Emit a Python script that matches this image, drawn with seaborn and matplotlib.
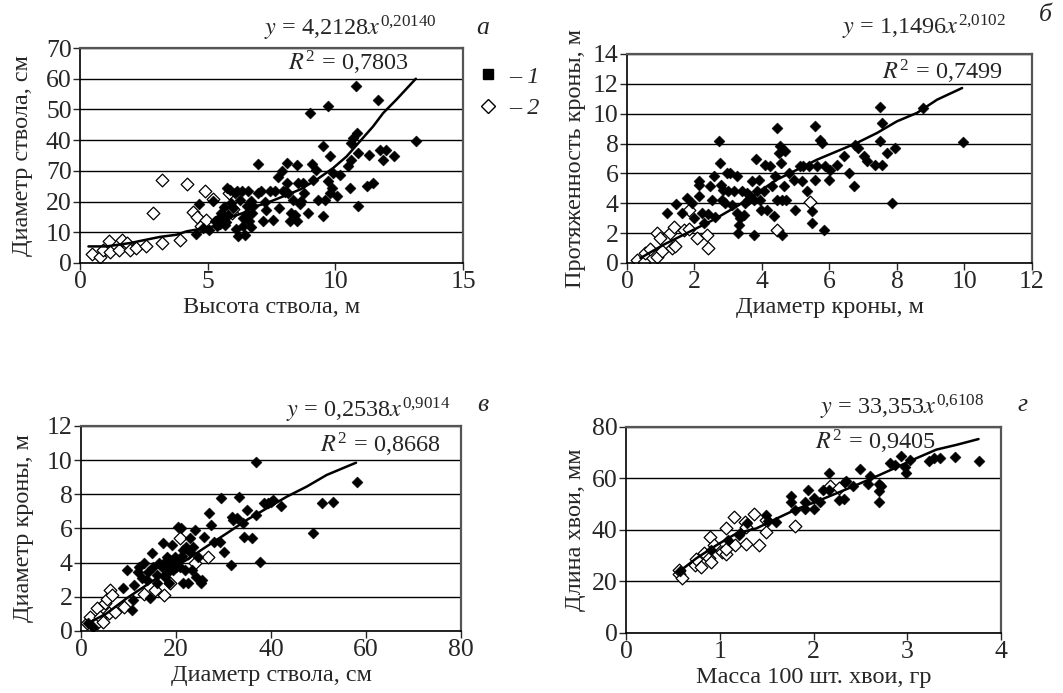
import numpy as np
import pandas as pd
import matplotlib
matplotlib.use("Agg")
import matplotlib.pyplot as plt
import seaborn as sns
from matplotlib.lines import Line2D

# ---- panel а: высота ствола, м -> диаметр ствола, см
a_open_x = [0.46, 0.78, 0.9, 1.15, 1.17, 1.54, 1.63, 1.83, 1.96, 2.2, 2.6, 2.87, 3.2, 3.2, 3.9,
            4.18, 4.41, 4.6, 4.73, 4.93, 4.9, 5.2, 5.85, 5.94, 6.0]
a_open_y = [2.8, 1.8, 4.2, 7.0, 3.7, 4.2, 7.5, 6.4, 4.2, 4.8, 5.5, 16.2, 27.0, 6.6, 7.5,
            25.6, 16.5, 15.1, 12.2, 14.0, 23.6, 20.8, 22.7, 16.2, 17.5]
a_fill_x = [4.56, 4.67, 4.83, 5.06, 5.2, 5.3, 5.54, 5.6, 5.67, 5.74, 5.87, 5.93, 6.0, 6.07, 6.13,
            6.2, 6.26, 6.33, 6.37, 6.46, 6.52, 6.59, 6.63, 6.68, 6.72, 6.78, 6.98, 6.95, 7.07, 7.17,
            7.24, 7.3, 7.43, 7.57, 7.63, 7.76, 7.89, 7.8, 7.96, 8.02, 8.09, 8.11, 8.15, 8.22, 8.28,
            8.35, 8.41, 8.48, 8.5, 8.54, 8.61, 8.67, 8.74, 8.76, 8.93, 9.0, 9.07, 9.13, 9.26, 9.33,
            9.5, 9.5, 9.59, 9.72, 9.72, 9.78, 9.8, 9.85, 9.9, 10.05, 10.2, 10.5, 10.57, 10.6, 10.63,
            10.7, 10.8, 10.85, 10.9, 10.9, 11.22, 11.32, 11.48, 11.65, 11.74, 11.87, 12.0, 12.29, 13.15,
            5.45, 5.5, 5.62, 5.8, 6.1, 6.4, 6.55, 6.7, 5.35, 5.7]
a_fill_y = [9.4, 19.3, 11.4, 10.9, 20.3, 13.6, 16.3, 14.1, 12.5, 24.4, 23.9, 19.5, 17.9, 22.8, 23.4,
            8.9, 20.6, 23.4, 14.7, 9.2, 18.5, 23.4, 13.6, 20.1, 16.3, 18.5, 22.8, 32.3, 23.6, 13.6,
            19.8, 17.4, 23.4, 14.1, 23.4, 28.0, 29.8, 17.9, 23.4, 23.0, 32.6, 26.0, 22.8, 13.6, 16.3,
            20.6, 15.7, 13.6, 31.8, 26.0, 19.3, 20.1, 26.0, 22.8, 16.3, 49.0, 32.3, 27.1, 30.4, 20.6,
            38.0, 15.2, 20.6, 51.0, 26.6, 22.8, 34.7, 24.4, 29.3, 21.7, 28.8, 31.5, 24.4, 39.0, 33.6,
            40.7, 57.7, 42.3, 35.8, 18.5, 25.0, 35.3, 25.9, 53.2, 36.9, 33.6, 36.9, 34.7, 39.8,
            14.5, 12.8, 18.2, 15.5, 11.0, 12.0, 15.8, 11.8, 12.2, 13.2]
a_trend_x = [0.33, 1.04, 1.96, 3.13, 3.78, 4.17, 4.7, 5.2, 5.74, 6.0, 6.39, 6.78, 7.3, 7.96, 8.61,
             9.26, 9.91, 10.44, 10.96, 11.48, 11.87, 12.39, 13.15]
a_trend_y = [5.4, 5.4, 6.5, 8.5, 9.2, 10.3, 11.1, 11.9, 14.1, 15.2, 16.3, 18.2, 19.5, 21.7, 23.9,
             27.1, 30.9, 34.7, 39.6, 44.5, 48.8, 53.2, 60.0]
a_yticks = [0, 10, 20, 30, 40, 50, 60, 70]
a_yticklabels = ["0", "10", "20", "70", "40", "50", "60", "70"]

# ---- panel б: диаметр кроны, м -> протяженность кроны, м
b_open_x = [0.3, 0.5, 0.54, 0.69, 0.89, 0.89, 0.99, 1.04, 1.28, 1.33, 1.4, 1.43, 1.7, 1.83, 1.83,
            2.07, 2.37, 2.4, 4.44, 5.43]
b_open_y = [0.22, 0.1, 0.67, 0.94, 2.0, 0.4, 1.67, 0.78, 2.0, 1.0, 2.4, 1.16, 2.23, 3.57, 2.28,
            1.67, 1.9, 1.0, 2.23, 4.06]
b_fill_x = [1.19, 1.45, 1.63, 1.78, 1.93, 1.98, 2.12, 2.12, 2.12, 2.22, 2.27, 2.47, 2.52, 2.57, 2.72,
            2.77, 2.79, 2.82, 2.86, 2.91, 2.96, 3.0, 3.06, 3.16, 3.26, 3.26, 3.28, 3.31, 3.36, 3.41,
            3.46, 3.51, 3.56, 3.65, 3.7, 3.75, 3.77, 3.83, 3.85, 3.9, 3.95, 3.98, 4.05, 4.1, 4.15,
            4.25, 4.3, 4.35, 4.4, 4.44, 4.46, 4.5, 4.54, 4.56, 4.6, 4.6, 4.64, 4.69, 4.72, 4.79,
            4.94, 4.99, 5.13, 5.18, 5.23, 5.33, 5.38, 5.48, 5.48, 5.56, 5.58, 5.63, 5.71, 5.78, 5.83,
            5.88, 5.98, 6.02, 6.22, 6.42, 6.57, 6.72, 6.77, 6.86, 7.01, 7.11, 7.36, 7.49, 7.51, 7.56,
            7.56, 7.71, 7.85, 7.93, 8.77, 9.96, 2.4, 2.6, 3.1, 3.6]
b_fill_y = [3.35, 3.93, 3.35, 4.35, 4.0, 3.0, 5.25, 5.47, 4.47, 3.35, 2.68, 5.14, 4.24, 5.8, 8.2,
            6.7, 5.25, 4.24, 4.9, 4.0, 6.0, 4.8, 6.03, 4.8, 5.8, 3.35, 2.0, 2.56, 3.0, 4.8,
            3.24, 4.0, 4.69, 4.46, 5.47, 4.24, 1.9, 6.97, 4.8, 5.58, 4.24, 3.57, 4.8, 6.59, 3.57,
            6.47, 5.14, 3.13, 5.8, 4.24, 9.04, 7.37, 7.81, 6.7, 4.24, 1.9, 5.14, 7.48, 4.24, 6.0,
            5.58, 3.57, 6.47, 5.47, 6.47, 4.8, 6.47, 3.46, 2.68, 9.15, 5.58, 6.47, 8.26, 8.04, 2.23,
            6.47, 5.58, 6.25, 6.59, 7.14, 6.03, 5.14, 7.92, 7.7, 7.14, 6.81, 6.59, 10.45, 8.2, 9.37,
            6.59, 7.37, 4.0, 7.7, 10.38, 8.08, 3.3, 3.1, 3.9, 4.2]
b_trend_x = [0.4, 1.09, 1.88, 2.57, 3.26, 3.85, 4.44, 5.04, 5.63, 6.22, 6.81, 7.41, 8.0, 8.59, 9.19, 9.93]
b_trend_y = [0.33, 1.23, 2.12, 2.9, 3.8, 4.69, 5.58, 6.25, 6.92, 7.48, 8.04, 8.71, 9.49, 10.05, 10.94, 11.72]

# ---- panel в: диаметр ствола, см -> диаметр кроны, м
c_open_x = [1.33, 1.9, 2.6, 3.3, 3.3, 4.0, 4.7, 5.05, 5.4, 5.96, 6.1, 6.46, 7.2, 9.05, 13.3,
            15.6, 17.4, 18.8, 20.8, 22.6, 24.0, 26.8]
c_open_y = [0.45, 0.84, 0.35, 0.45, 1.33, 0.84, 0.55, 1.62, 1.9, 1.03, 2.4, 2.1, 1.13, 1.42, 2.15,
            2.4, 2.1, 2.8, 5.42, 4.55, 3.96, 4.35]
c_fill_x = [1.5, 2.6, 8.9, 9.6, 10.7, 10.9, 11.2, 12.0, 12.3, 13.3, 13.8, 14.2, 14.5, 14.9, 15.2,
            15.9, 16.5, 17.0, 17.2, 17.5, 17.7, 18.0, 18.4, 18.6, 18.7, 19.1, 19.3, 19.4, 19.8, 20.0,
            20.4, 20.5, 20.8, 21.0, 21.4, 21.5, 21.8, 22.1, 22.6, 22.9, 23.3, 23.5, 23.9, 24.2, 24.7,
            25.2, 25.4, 25.8, 27.0, 27.3, 27.9, 29.3, 29.4, 30.0, 31.5, 31.7, 32.1, 32.8, 33.3, 34.0,
            34.3, 34.9, 36.0, 36.8, 36.8, 37.7, 38.6, 39.4, 39.9, 40.5, 42.2, 48.8, 50.7, 53.1, 58.0,
            16.0, 18.2, 19.6, 20.2, 21.2, 23.0, 12.8]
c_fill_y = [0.45, 0.25, 2.5, 3.57, 1.23, 1.81, 2.69, 3.47, 3.76, 3.96, 2.99, 3.47, 1.91, 4.55, 3.76,
            2.79, 3.96, 3.76, 5.17, 3.96, 3.18, 4.35, 3.76, 2.79, 4.16, 5.03, 3.96, 3.57, 4.35, 3.76,
            4.16, 6.1, 3.76, 6.0, 4.74, 2.79, 3.57, 4.94, 2.79, 5.42, 3.57, 4.94, 5.91, 3.18, 4.35,
            2.79, 2.99, 5.52, 6.93, 6.2, 5.23, 5.23, 7.77, 4.64, 3.86, 6.69, 6.48, 6.59, 7.86, 6.3,
            5.52, 7.08, 5.42, 9.91, 6.79, 4.06, 7.47, 7.47, 7.57, 7.67, 7.32, 5.72, 7.47, 7.57, 8.74,
            3.3, 3.4, 4.1, 3.9, 4.4, 4.6, 3.1]
c_trend_x = [1.5, 5.4, 9.6, 13.8, 18.0, 22.2, 26.4, 30.7, 34.9, 39.1, 43.3, 47.5, 51.7, 55.9, 57.9]
c_trend_y = [0.45, 1.03, 1.91, 2.69, 3.47, 4.16, 4.94, 5.72, 6.5, 7.18, 7.86, 8.45, 9.13, 9.62, 9.85]

# ---- panel г: масса 100 шт. хвои, гр -> длина хвои, мм
d_open_x = [0.56, 0.57, 0.6, 0.74, 0.75, 0.8, 0.83, 0.88, 0.9, 0.91, 0.94, 1.02, 1.07, 1.07, 1.07,
            1.15, 1.16, 1.27, 1.28, 1.28, 1.37, 1.42, 1.49, 1.49, 1.8, 2.18, 2.27]
d_open_y = [22.9, 24.4, 21.2, 26.4, 28.6, 25.7, 31.0, 29.0, 37.4, 27.5, 34.2, 31.6, 30.6, 40.6, 32.7,
            45.2, 34.2, 43.2, 41.3, 34.5, 46.1, 34.2, 43.9, 39.4, 41.7, 56.9, 56.2]
d_fill_x = [0.58, 0.91, 1.09, 1.2, 1.22, 1.29, 1.49, 1.51, 1.6, 1.76, 1.76, 1.8, 1.91, 1.91, 1.94,
            2.0, 2.0, 2.07, 2.1, 2.16, 2.17, 2.27, 2.32, 2.34, 2.35, 2.42, 2.5, 2.58, 2.6, 2.7,
            2.7, 2.7, 2.72, 2.82, 2.87, 2.93, 2.98, 2.99, 3.03, 3.23, 3.28, 3.35, 3.51, 3.76]
d_fill_y = [24.0, 32.2, 36.1, 38.0, 38.7, 42.6, 45.8, 43.6, 43.2, 53.0, 51.0, 47.8, 48.0, 51.0, 55.6,
            52.3, 48.0, 51.0, 55.6, 55.6, 62.0, 51.6, 51.9, 58.8, 59.2, 56.9, 63.6, 58.0, 60.8, 58.0,
            55.0, 51.0, 57.2, 66.0, 65.3, 68.8, 64.4, 62.3, 67.3, 66.6, 67.9, 67.9, 68.3, 66.9]
d_trend_x = [0.57, 0.75, 0.97, 1.18, 1.39, 1.61, 1.82, 2.03, 2.25, 2.46, 2.67, 2.89, 3.1, 3.31, 3.53, 3.76]
d_trend_y = [23.9, 29.0, 34.2, 38.7, 40.6, 44.5, 48.1, 51.0, 54.3, 57.5, 60.8, 64.4, 67.9, 71.2, 73.1, 75.3]

sns.set_style("white")
plt.rcParams["font.family"] = ["Liberation Serif", "DejaVu Serif"]
plt.rcParams["mathtext.fontset"] = "stix"

FS_TICK = 18.5
FS_LAB = 17.5
FS_EQ = 17.5


def draw_panel(ax, fx, fy, ox, oy, tx, ty, xlim, xticks, ylim, yticks, xlabel, ylabel,
               eq, r2, letter, eq_pos, r2_pos, letter_pos, ypad=3, yticklabels=None):
    pts = pd.DataFrame({
        "x": list(fx) + list(ox),
        "y": list(fy) + list(oy),
        "grp": ["1"] * len(fx) + ["2"] * len(ox),
    })
    trend = pd.DataFrame({"x": tx, "y": ty})

    for ytk in yticks:
        ax.axhline(ytk, color="black", lw=1.0, zorder=0)

    sns.scatterplot(data=pts[pts.grp == "2"], x="x", y="y", marker="D", s=42,
                    facecolor="white", edgecolor="black", linewidth=0.9, ax=ax, zorder=2)
    sns.scatterplot(data=pts[pts.grp == "1"], x="x", y="y", marker="D", s=32,
                    color="black", edgecolor="black", linewidth=0.3, ax=ax, zorder=3)
    sns.lineplot(data=trend, x="x", y="y", sort=False, color="black", lw=1.8, ax=ax, zorder=4)

    ax.set_xlim(*xlim)
    ax.set_ylim(*ylim)
    ax.set_xticks(xticks)
    ax.set_yticks(yticks)
    if yticklabels is not None:
        ax.set_yticklabels(yticklabels)
    ax.tick_params(axis="both", labelsize=FS_TICK, length=5, width=1.0, direction="out",
                   bottom=True, left=True, pad=1)
    ax.set_xlabel(xlabel, fontsize=FS_LAB, labelpad=3)
    ax.set_ylabel(ylabel, fontsize=FS_LAB, labelpad=ypad)
    for side in ["top", "right"]:
        ax.spines[side].set_color("#555555")
        ax.spines[side].set_linewidth(1.6)
    for side in ["left", "bottom"]:
        ax.spines[side].set_color("black")
        ax.spines[side].set_linewidth(1.2)

    ax.text(eq_pos[0], eq_pos[1], eq, transform=ax.transAxes, fontsize=FS_EQ,
            ha="center", va="center")
    ax.text(r2_pos[0], r2_pos[1], r2, transform=ax.transAxes, fontsize=FS_EQ,
            ha="center", va="center")
    ax.text(letter_pos[0], letter_pos[1], letter, transform=ax.transAxes, fontsize=FS_EQ + 1,
            ha="center", va="center", style="italic")


fig = plt.figure(figsize=(10.63, 6.93), dpi=100)

ax_a = fig.add_axes([0.0753, 0.6205, 0.3603, 0.3102])
ax_b = fig.add_axes([0.5898, 0.6205, 0.3810, 0.3016])
ax_c = fig.add_axes([0.0762, 0.0895, 0.3575, 0.2958])
ax_d = fig.add_axes([0.5889, 0.0866, 0.3528, 0.2973])

draw_panel(ax_a, a_fill_x, a_fill_y, a_open_x, a_open_y, a_trend_x, a_trend_y,
           (0, 15), [0, 5, 10, 15], (0, 70), a_yticks,
           "Высота ствола, м", "Диаметр ствола, см",
           r"$y$ = 4,2128$x^{\mathregular{0{,}20140}}$", r"$R^{\mathregular{2}}$ = 0,7803", "а",
           (0.705, 1.093), (0.70, 0.93), (1.052, 1.093), ypad=9, yticklabels=a_yticklabels)
draw_panel(ax_b, b_fill_x, b_fill_y, b_open_x, b_open_y, b_trend_x, b_trend_y,
           (0, 12), [0, 2, 4, 6, 8, 10, 12], (0, 14), [0, 2, 4, 6, 8, 10, 12, 14],
           "Диаметр кроны, м", "Протяженность кроны, м",
           r"$y$ = 1,1496$x^{\mathregular{2{,}0102}}$", r"$R^{\mathregular{2}}$ = 0,7499", "б",
           (0.733, 1.129), (0.778, 0.914), (1.032, 1.187), ypad=5)
draw_panel(ax_c, c_fill_x, c_fill_y, c_open_x, c_open_y, c_trend_x, c_trend_y,
           (0, 80), [0, 20, 40, 60, 80], (0, 12), [0, 2, 4, 6, 8, 10, 12],
           "Диаметр ствола, см", "Диаметр кроны, м",
           r"$y$ = 0,2538$x^{\mathregular{0{,}9014}}$", r"$R^{\mathregular{2}}$ = 0,8668", "в",
           (0.755, 1.078), (0.789, 0.907), (1.058, 1.102), ypad=9)
draw_panel(ax_d, d_fill_x, d_fill_y, d_open_x, d_open_y, d_trend_x, d_trend_y,
           (0, 4), [0, 1, 2, 3, 4], (0, 80), [0, 20, 40, 60, 80],
           "Масса 100 шт. хвои, гр", "Длина хвои, мм",
           r"$y$ = 33,353$x^{\mathregular{0{,}6108}}$", r"$R^{\mathregular{2}}$ = 0,9405", "г",
           (0.736, 1.097), (0.665, 0.927), (1.056, 1.107), ypad=4)

handles = [
    Line2D([], [], marker="s", ls="none", color="black", markersize=7),
    Line2D([], [], marker="D", ls="none", markerfacecolor="white",
           markeredgecolor="black", markersize=7, markeredgewidth=1.0),
]
fig.legend(handles, ["– 1", "– 2"], loc="upper left", bbox_to_anchor=(0.429, 0.937),
           frameon=False, handlelength=0.8, handletextpad=0.5, labelspacing=0.4,
           prop={"family": ["Liberation Serif"], "style": "italic", "size": FS_LAB})

fig.savefig("out.png", dpi=100)
